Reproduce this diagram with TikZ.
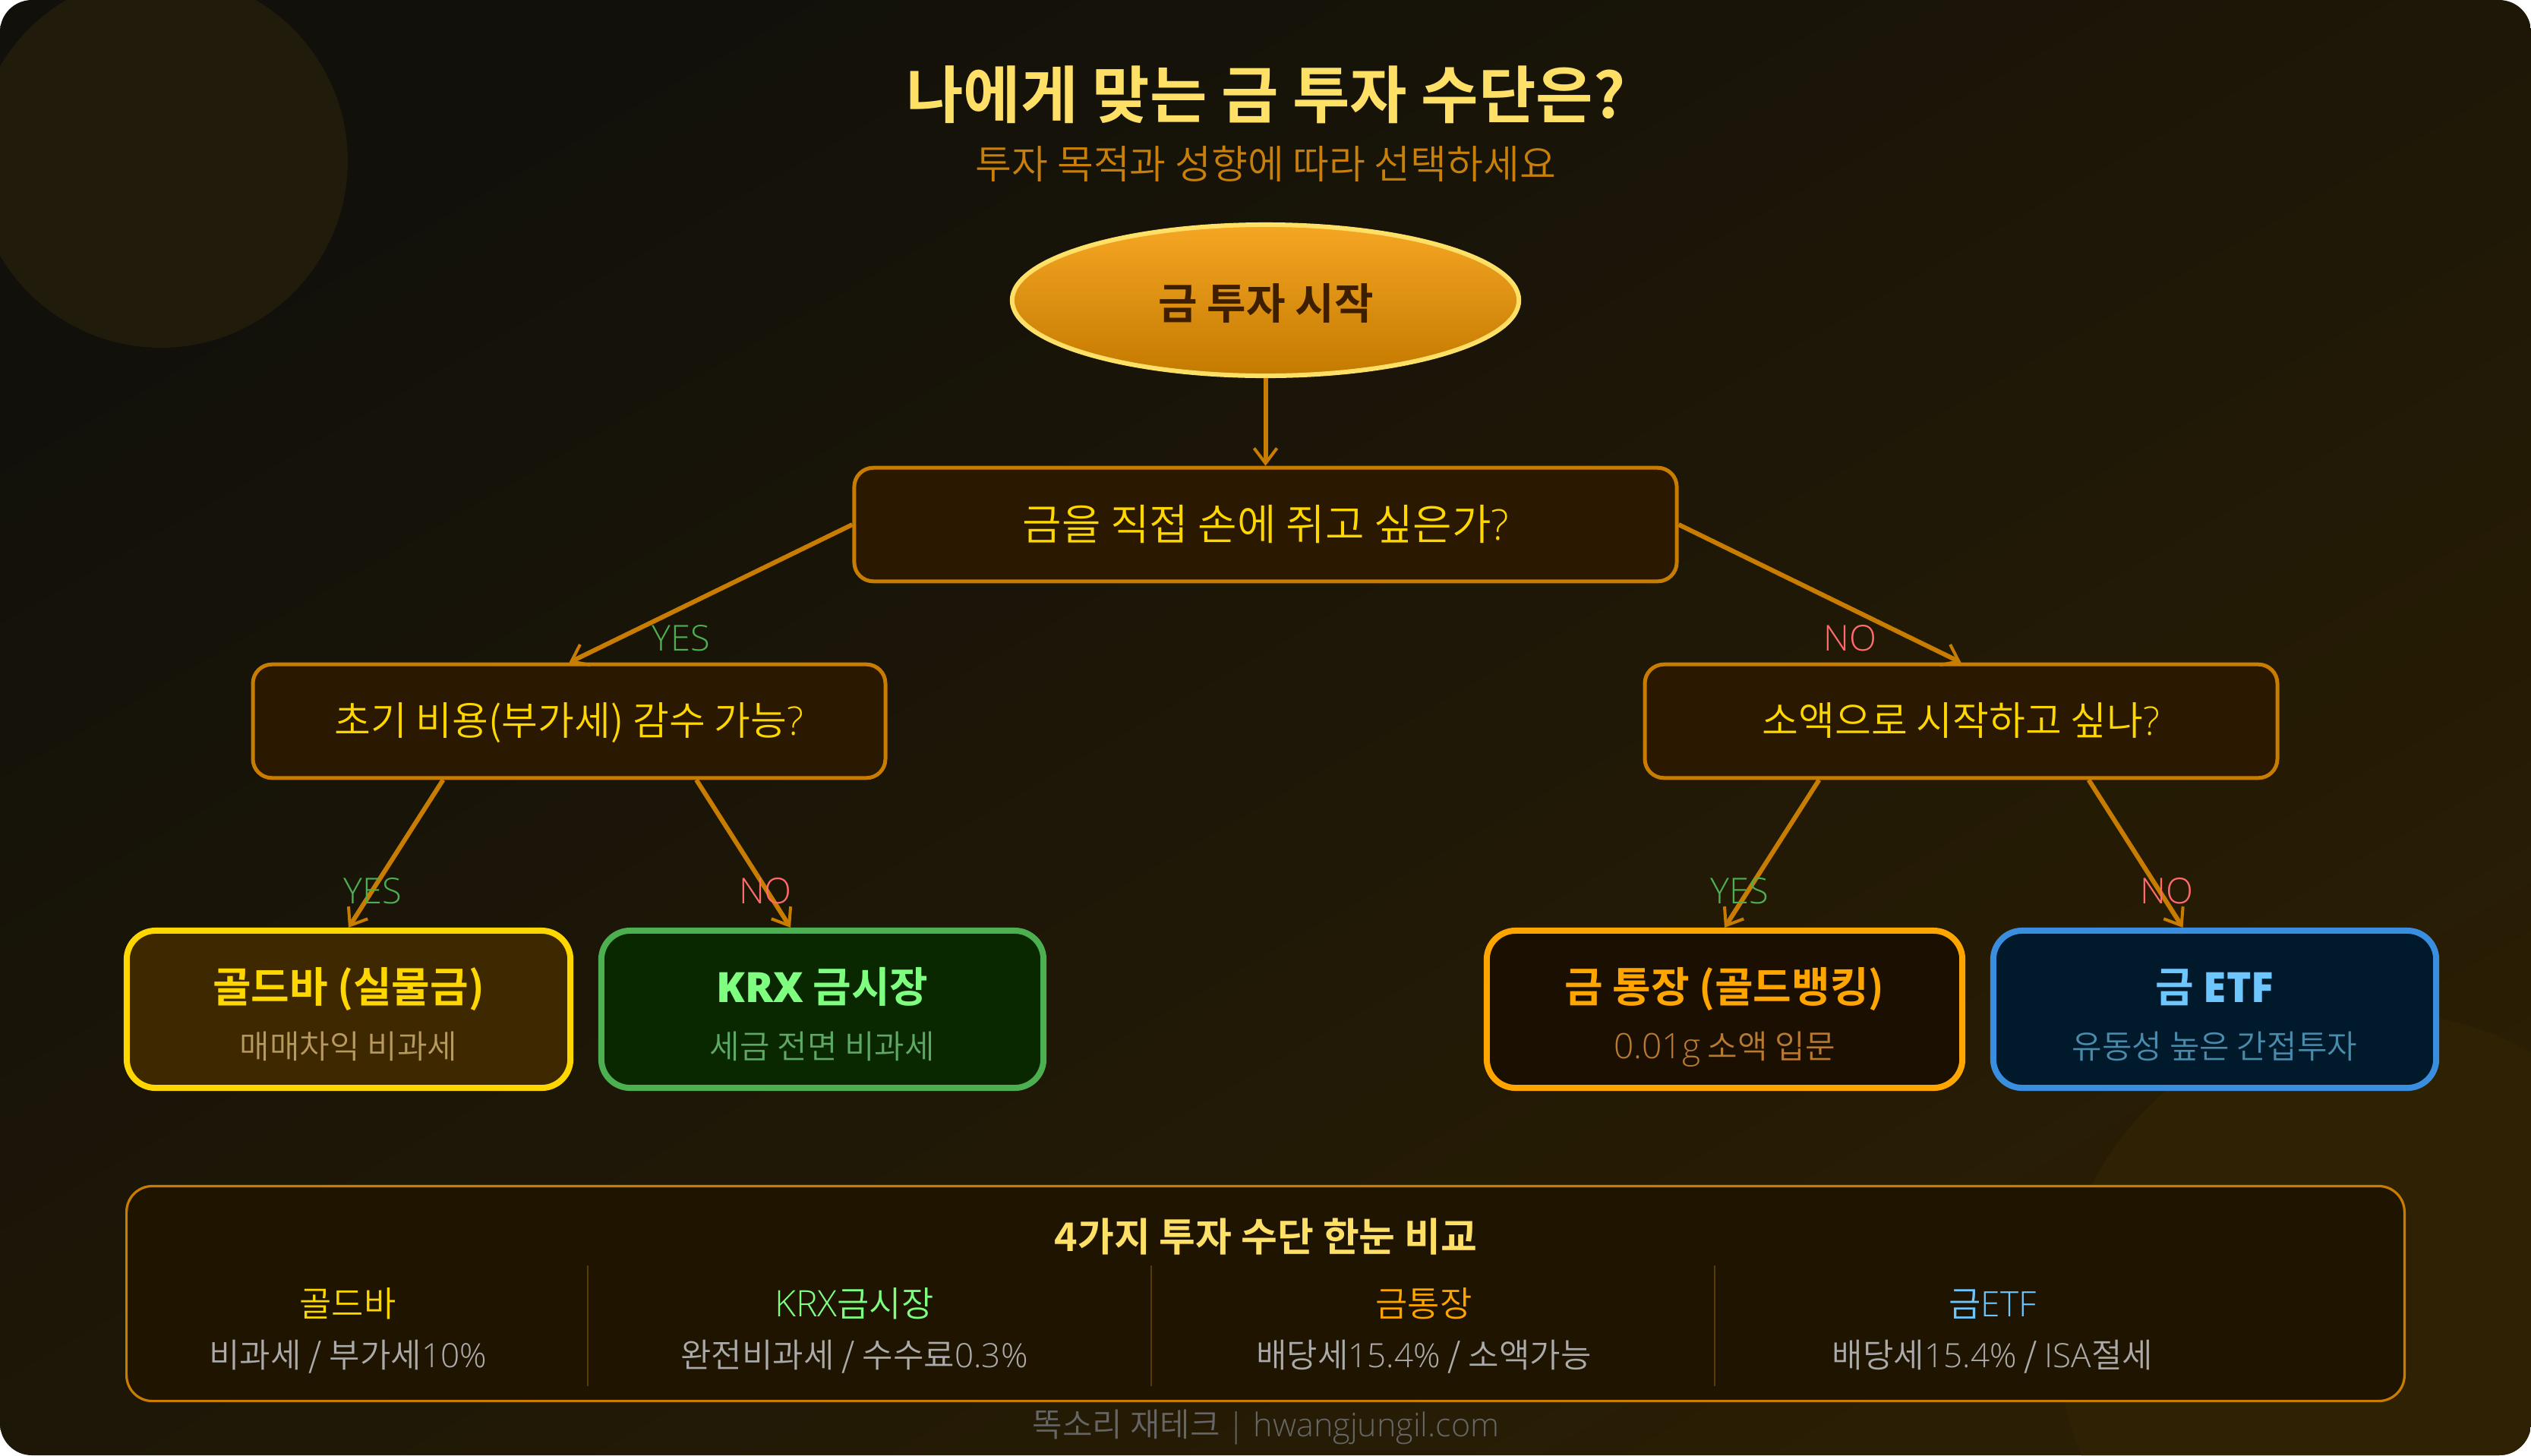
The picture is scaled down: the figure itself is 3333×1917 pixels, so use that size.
\documentclass[tikz,border=0pt]{standalone}
\usepackage{fontspec}
\setmainfont{Noto Sans CJK KR DemiLight}[BoldFont={Noto Sans CJK KR Bold}]
\newfontfamily\lat{Open Sans Light}
\newfontfamily\latb{Open Sans Bold}
\usetikzlibrary{arrows.meta,shapes.geometric,calc}
\definecolor{bgA}{HTML}{11100A}
\definecolor{bgB}{HTML}{2A1E04}
\definecolor{circA}{HTML}{201B0A}
\definecolor{circB}{HTML}{2F2104}
\definecolor{gold}{HTML}{FFE066}
\definecolor{amber}{HTML}{C87D00}
\definecolor{subamber}{HTML}{C8800A}
\definecolor{qfill}{HTML}{2A1800}
\definecolor{qtext}{HTML}{FFD700}
\definecolor{yesc}{HTML}{4CAF50}
\definecolor{noc}{HTML}{FF6B6B}
\definecolor{startT}{HTML}{F5A623}
\definecolor{startB}{HTML}{C47A00}
\definecolor{startTx}{HTML}{3D1F00}
\definecolor{cmpfill}{HTML}{1E1400}
\definecolor{divc}{HTML}{5A3C00}
\definecolor{lfAf}{HTML}{3D2800}\definecolor{lfAt}{HTML}{FFD700}\definecolor{lfAs}{HTML}{B89A60}
\definecolor{lfBf}{HTML}{0A2800}\definecolor{lfBd}{HTML}{4CAF50}\definecolor{lfBt}{HTML}{7FFF7F}\definecolor{lfBs}{HTML}{5FA866}
\definecolor{lfCf}{HTML}{1A0F00}\definecolor{lfCt}{HTML}{FFA500}\definecolor{lfCs}{HTML}{B87A30}
\definecolor{lfDf}{HTML}{001A2C}\definecolor{lfDd}{HTML}{3A8EE0}\definecolor{lfDt}{HTML}{6EC6FF}\definecolor{lfDs}{HTML}{4A8AAA}
\newcommand{\fsz}[1]{\fontsize{\the\dimexpr0.28453pt*#1\relax}{\the\dimexpr0.34pt*#1\relax}\selectfont}
\tikzset{
 x=0.01cm,y=-0.01cm,
 txt/.style={anchor=base,inner sep=0pt},
 qbox/.style={draw=amber,fill=qfill,line width=.05cm,rounded corners=.25cm,minimum width=8.325cm,minimum height=1.495cm,inner sep=0pt},
 leafbox/.style={line width=.08cm,rounded corners=.38cm,minimum height=2.07cm,inner sep=0pt},
 conn/.style={draw=amber,line width=.06cm,-{Straight Barb[length=.2cm,width=.3cm,line width=.04cm]}},
 qtxt/.style={txt,text=qtext,font=\fsz{52}},
 ltitle/.style={txt,font=\bfseries\fsz{55}},
 lsub/.style={txt,font=\fsz{43}},
 chead/.style={txt,font=\fsz{46}},
 csub/.style={txt,text=black!33,font=\fsz{44}},
 yeslab/.style={txt,text=yesc,font=\lat\fsz{47}},
 nolab/.style={txt,text=noc,font=\lat\fsz{47}},
}
\begin{document}
\begin{tikzpicture}
\useasboundingbox (0,0) rectangle (3333,1917);
\begin{scope}
 \clip[rounded corners=.42cm] (0,0) rectangle (3333,1917);
 \shade[shading=axis,left color=bgA,right color=bgB,shading angle=30] (0,0) rectangle (3333,1917);
 \fill[circA] (212,212) circle[radius=246];
 \fill[circB] (3128,1753) circle[radius=420];
\end{scope}

\node[txt,text=gold,font=\bfseries\fsz{82}] (title) at (1667,155) {나에게 맞는 금 투자 수단은?};
\node[txt,text=subamber,font=\fsz{52}] (subtitle) at (1667,235) {투자 목적과 성향에 따라 선택하세요};

\node[ellipse,draw=gold,top color=startT,bottom color=startB,line width=.06cm,minimum width=6.67cm,minimum height=1.99cm,inner sep=0pt] (start) at (1666.5,395.5) {};
\node[txt,text=startTx,font=\bfseries\fsz{56}] (startlab) at (1667,420) {금 투자 시작};

\node[qbox,minimum width=10.825cm] (q1) at (1666.5,691) {};
\node[qtxt,font=\fsz{56}] (q1lab) at (1667,711) {금을 직접 손에 쥐고 싶은가{\lat ?}};
\node[qbox] (q2) at (749.5,950) {};
\node[qtxt] (q2lab) at (749.5,968) {초기 비용(부가세) 감수 가능{\lat ?}};
\node[qbox] (q3) at (2582.5,950) {};
\node[qtxt] (q3lab) at (2582.5,968) {소액으로 시작하고 싶나{\lat ?}};

\node[leafbox,draw=lfAt,fill=lfAf,minimum width=5.84cm] (lfA) at (459,1329.5) {};
\node[ltitle,text=lfAt] (lfAa) at (459,1320) {골드바 (실물금)};
\node[lsub,text=lfAs] (lfAb) at (459,1394) {매매차익 비과세};
\node[leafbox,draw=lfBd,fill=lfBf,minimum width=5.82cm] (lfB) at (1083,1329.5) {};
\node[ltitle,text=lfBt] (lfBa) at (1083,1320) {{\latb KRX} 금시장};
\node[lsub,text=lfBs] (lfBb) at (1083,1394) {세금 전면 비과세};
\node[leafbox,draw=lfCt,fill=lfCf,minimum width=6.26cm] (lfC) at (2271,1329.5) {};
\node[ltitle,text=lfCt] (lfCa) at (2271,1320) {금 통장 (골드뱅킹)};
\node[lsub,text=lfCs] (lfCb) at (2271,1394) {{\lat\fsz{46}0.01g} 소액 입문};
\node[leafbox,draw=lfDd,fill=lfDf,minimum width=5.83cm] (lfD) at (2916.5,1329.5) {};
\node[ltitle,text=lfDt] (lfDa) at (2916.5,1320) {금 {\latb ETF}};
\node[lsub,text=lfDs] (lfDb) at (2916.5,1394) {유동성 높은 간접투자};

\draw[conn] (start.south) -- (q1.north);
\draw[conn] (q1.west) -- (q2.north);
\draw[conn] (q1.east) -- (q3.north);
\draw[conn] ($(q2.south)+(-166,0)$) -- (lfA.north);
\draw[conn] ($(q2.south)+(167.5,0)$) -- ($(lfB.north)+(-42,0)$);
\draw[conn] ($(q3.south)+(-187,0)$) -- (lfC.north);
\draw[conn] ($(q3.south)+(168,0)$) -- ($(lfD.north)+(-42,0)$);

\node[yeslab] (y1) at (897,857) {YES};
\node[nolab] (n1) at (2436,857) {NO};
\node[yeslab] (y2) at (491,1190) {YES};
\node[nolab] (n2) at (1008,1190) {NO};
\node[yeslab] (y3) at (2291,1190) {YES};
\node[nolab] (n3) at (2853,1190) {NO};

\node[draw=amber,fill=cmpfill,line width=.032cm,rounded corners=.34cm,minimum width=29.98cm,minimum height=2.83cm,inner sep=0pt] (cmp) at (1666.5,1704) {};
\node[txt,text=gold,font=\bfseries\fsz{52}] (cmpt) at (1667,1648) {4가지 투자 수단 한눈 비교};
\foreach \xx in {774,1515.5,2258} \draw[divc,line width=.02cm] (\xx,1667) -- (\xx,1826);
\node[chead,text=lfAt] (c1a) at (458,1734) {골드바};
\node[csub] (c1b) at (458,1801) {비과세 / 부가세{\lat 10\%}};
\node[chead,text=lfBt] (c2a) at (1125,1734) {{\lat\fsz{48}KRX}금시장};
\node[csub] (c2b) at (1125,1801) {완전비과세 / 수수료{\lat 0.3\%}};
\node[chead,text=lfCt] (c3a) at (1875,1734) {금통장};
\node[csub] (c3b) at (1875,1801) {배당세{\lat 15.4\%} / 소액가능};
\node[chead,text=lfDt] (c4a) at (2624,1734) {금{\lat ETF}};
\node[csub] (c4b) at (2624,1801) {배당세{\lat 15.4\%} / {\lat ISA}절세};
\node[txt,text=black!60,font=\fsz{43}] (foot) at (1667,1892) {똑소리 재테크 {\lat | hwangjungil.com}};
\end{tikzpicture}
\end{document}
